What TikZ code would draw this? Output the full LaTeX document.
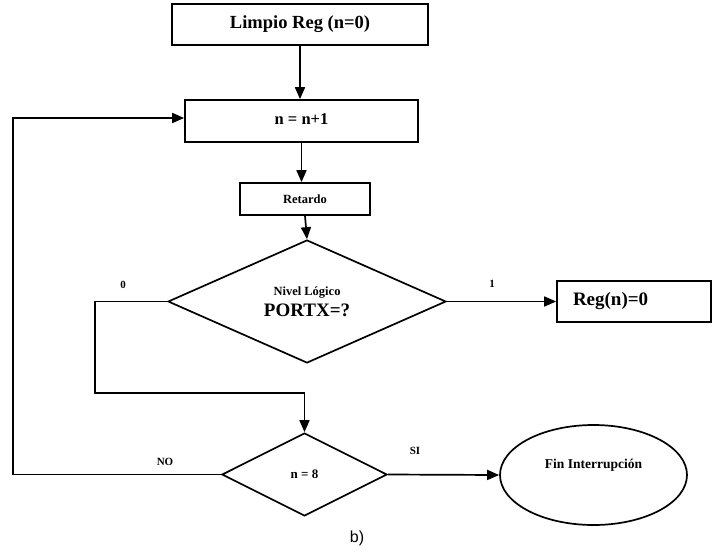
\documentclass[tikz,border=0pt]{standalone}
\usepackage{fontspec}
\setmainfont{Liberation Serif}
\newfontfamily\captionfont{Liberation Sans}
\usetikzlibrary{shapes.geometric,arrows.meta,calc}

\tikzset{
  flow/.style={line width=1.7pt},
  flowarrow/.style={flow,-{Triangle[length=12pt,width=10pt]}},
  procbox/.style={draw,line width=1.7pt,rectangle,inner sep=0pt,font=\bfseries},
  decision/.style={draw,line width=1.7pt,diamond,inner sep=0pt,align=center,font=\bfseries},
  terminal/.style={draw,line width=1.7pt,ellipse,inner sep=0pt},
  branchlabel/.style={font=\bfseries\fontsize{11}{12}\selectfont}
}

\begin{document}
\begin{tikzpicture}[x=1pt,y=-1pt]
  \useasboundingbox (0,0) rectangle (714,551);

  % process boxes
  \node[procbox,minimum width=256pt,minimum height=41pt,font=\bfseries\fontsize{18.5}{21}\selectfont]
    (init) at (300,24.5) {Limpio Reg (n=0)};
  \node[procbox,minimum width=233pt,minimum height=42pt,font=\bfseries\fontsize{16.5}{19}\selectfont]
    (incr) at (301.5,121) {\raisebox{3pt}{n = n+1}};
  \node[procbox,minimum width=130pt,minimum height=32pt,font=\bfseries\fontsize{12.5}{14}\selectfont]
    (delay) at (305,199) {Retardo};

  % first decision
  \node[decision,minimum width=278pt,minimum height=123pt]
    (level) at (307,301.5)
    {{\fontsize{12.5}{13}\selectfont Nivel Lógico}\\[5pt]{\fontsize{19}{20}\selectfont PORTX=?}};

  % register clear box
  \node[procbox,minimum height=41pt,text width=122pt,inner xsep=16pt,align=left,
        font=\bfseries\fontsize{19}{21}\selectfont]
    (clear) at (634,301.5) {Reg(n)=0};

  % loop test
  \node[decision,minimum width=165pt,minimum height=83pt,font=\bfseries\fontsize{13}{15}\selectfont]
    (count) at (304.5,474.5) {n = 8};

  % end of routine
  \node[terminal,minimum width=187pt,minimum height=100pt,
        label={[font=\bfseries\fontsize{13.5}{15}\selectfont,yshift=10pt]center:Fin Interrupción}]
    (finish) at (593.5,475) {};

  % routing points
  \coordinate (zeroleft) at (95,301.5);
  \coordinate (zerojoin) at (304.5,393);
  \coordinate (noleft) at (13,474.5);

  % connectors
  \draw[flowarrow] (init.south) -- (init.south |- incr.north);
  \draw[flowarrow] (incr.south) -- (incr.south |- delay.north);
  \draw[flowarrow] (delay.south) -- (level.north);
  \draw[flowarrow] (level.east) -- (clear.west);
  \draw[flowarrow] (level.west) -- (zeroleft) |- (zerojoin) -- (count.north);
  \draw[flowarrow] (count.west) -- (noleft) |- ([yshift=3pt]incr.west);
  \draw[flowarrow] (count.east) -- (finish.west);

  % branch labels
  \node[branchlabel] (lbl0) at (123,285) {0};
  \node[branchlabel] (lbl1) at (492,284) {1};
  \node[branchlabel] (lblno) at (165,462) {NO};
  \node[branchlabel] (lblsi) at (415,451) {SI};

  % caption
  \node[font=\captionfont\fontsize{16}{18}\selectfont] (cap) at (357,538) {b)};
\end{tikzpicture}
\end{document}
